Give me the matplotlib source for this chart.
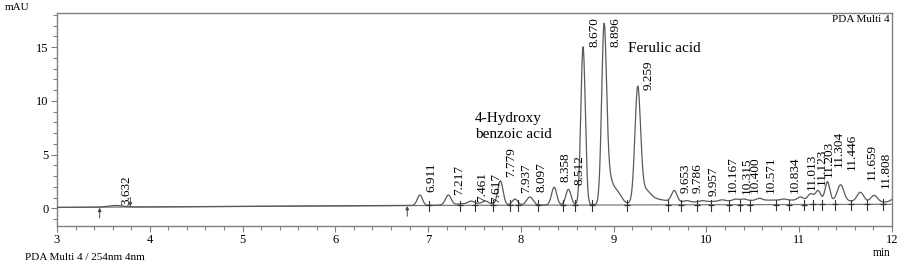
import numpy as np
import matplotlib
matplotlib.use("Agg")
import matplotlib.pyplot as plt
from matplotlib.ticker import MultipleLocator

# ---------------- data ----------------
# labelled peaks: retention time (min), height above baseline (mAU), width (sigma, min)
peak_rt = [3.632, 6.911, 7.217, 7.461, 7.617, 7.779, 7.937, 8.097, 8.358, 8.512,
           8.670, 8.896, 9.259, 9.653, 9.786, 9.957, 10.167, 10.315, 10.400, 10.571,
           10.834, 11.013, 11.123, 11.203, 11.304, 11.446, 11.659, 11.808]
peak_height = [0.15, 0.97, 0.90, 0.22, 0.25, 2.20, 0.55, 0.75, 1.65, 1.45,
               14.7, 15.5, 10.3, 1.05, 0.15, 0.10, 0.12, 0.15, 0.15, 0.18,
               0.10, 0.30, 0.60, 0.90, 1.75, 1.50, 0.85, 0.60]
peak_sigma = [0.08, 0.028, 0.03, 0.03, 0.03, 0.028, 0.03, 0.035, 0.028, 0.028,
              0.024, 0.026, 0.03, 0.03, 0.03, 0.03, 0.03, 0.03, 0.03, 0.03,
              0.03, 0.03, 0.03, 0.028, 0.025, 0.035, 0.035, 0.035]
# unlabelled components (shoulders, tails, humps)
extra_rt = [7.50, 8.94, 9.03, 9.33, 9.45, 10.80, 12.03]
extra_height = [0.18, 2.4, 1.2, 1.1, 0.35, 0.42, 0.35]
extra_sigma = [0.20, 0.04, 0.05, 0.06, 0.12, 0.95, 0.04]
# drifting baseline
base_x = [3.0, 6.8, 12.0]
base_y = [0.08, 0.26, 0.37]
# integration marks
start_marks = [3.46, 6.775]
end_marks = [3.79]
mid_marks = [7.009, 7.343, 7.505, 7.695, 7.88, 7.967, 8.18, 8.45, 8.58, 8.77,
             9.146, 9.584, 9.73, 9.90, 10.044, 10.245, 10.363, 10.468, 10.745,
             10.89, 11.053, 11.15, 11.243, 11.387, 11.556, 11.732, 11.908]
# label bottoms (annotation layout, mAU)
label_y = [0.3, 1.55, 1.24, 0.6, 0.52, 2.94, 1.4, 1.55, 2.4, 2.17,
           15.0, 15.0, 11.0, 1.4, 1.4, 1.17, 1.4, 1.35, 1.4, 1.45,
           1.4, 1.7, 2.17, 2.94, 3.8, 3.57, 2.64, 1.86]
x_ticks = [3, 4, 5, 6, 7, 8, 9, 10, 11, 12]
y_ticks = [0, 5, 10, 15]

# ---------------- figure ----------------
plt.rcParams['font.family'] = ['Liberation Serif', 'DejaVu Serif']
W, H = 902, 275
fig = plt.figure(figsize=(W / 100, H / 100), dpi=100)
ax = fig.add_axes([57 / W, 1 - 226 / H, (892 - 57) / W, (226 - 13) / H])

x = np.linspace(3.0, 12.0, 6000)
base = np.interp(x, base_x, base_y)
sig = base.copy()
for rt, h, s in zip(peak_rt + extra_rt, peak_height + extra_height, peak_sigma + extra_sigma):
    sig += h * np.exp(-0.5 * ((x - rt) / s) ** 2)

line_col = '#5a5a5a'
ax.plot(x, base, color='#7a7a7a', lw=0.9, zorder=2)
ax.plot(x, sig, color=line_col, lw=0.9, zorder=3)

# integration marks
for m in mid_marks:
    b = np.interp(m, base_x, base_y)
    ax.plot([m, m], [b - 0.55, b + 0.45], color='#333333', lw=0.8, zorder=4)
    ax.plot([m], [b], marker='_', ms=4, color='#333333', mew=0.9, zorder=4)
for m in start_marks:
    b = np.interp(m, base_x, base_y)
    ax.annotate('', xy=(m, b - 0.05), xytext=(m, b - 1.0),
                arrowprops=dict(arrowstyle='-|>', color='#444444', lw=0.7,
                                mutation_scale=5, shrinkA=0, shrinkB=0), zorder=4)
for m in end_marks:
    b = np.interp(m, base_x, base_y)
    ax.annotate('', xy=(m, b + 0.05), xytext=(m, b + 0.9),
                arrowprops=dict(arrowstyle='-|>', color='#444444', lw=0.7,
                                mutation_scale=5, shrinkA=0, shrinkB=0), zorder=4)

# peak labels
for rt, ly in zip(peak_rt, label_y):
    ax.text(rt + 0.12, ly, f"{rt:.3f}", rotation=90, ha='center', va='bottom',
            fontsize=9.5, color='black', zorder=5)

# compound annotations
ax.text(9.153, 14.83, 'Ferulic acid', ha='left', va='center', fontsize=11)
ax.text(7.50, 8.4, '4-Hydroxy', ha='left', va='center', fontsize=11)
ax.text(7.51, 6.9, 'benzoic acid', ha='left', va='center', fontsize=11)

# axes styling
ax.set_xlim(3, 12)
ax.set_ylim(-1.65, 18.18)
ax.set_xticks(x_ticks)
ax.set_yticks(y_ticks)
ax.xaxis.set_minor_locator(MultipleLocator(0.2))
ax.yaxis.set_minor_locator(MultipleLocator(1))
ax.tick_params(axis='both', which='major', direction='out', length=4, width=0.8,
               color='#808080', labelsize=9, pad=2)
ax.tick_params(axis='both', which='minor', direction='out', length=3, width=0.8,
               color='#808080')
for sp in ax.spines.values():
    sp.set_color('#808080')
    sp.set_linewidth(1.0)

fig.text(5 / W, 1 - 8 / H, 'mAU', ha='left', va='center', fontsize=8)
fig.text(891 / W, 1 - 253 / H, 'min', ha='right', va='center', fontsize=8.3)
fig.text(25 / W, 1 - 258 / H, 'PDA Multi 4 / 254nm 4nm', ha='left', va='center', fontsize=8)
fig.text(890 / W, 1 - 19 / H, 'PDA Multi 4', ha='right', va='center', fontsize=8)

fig.savefig('out.png', dpi=100)
